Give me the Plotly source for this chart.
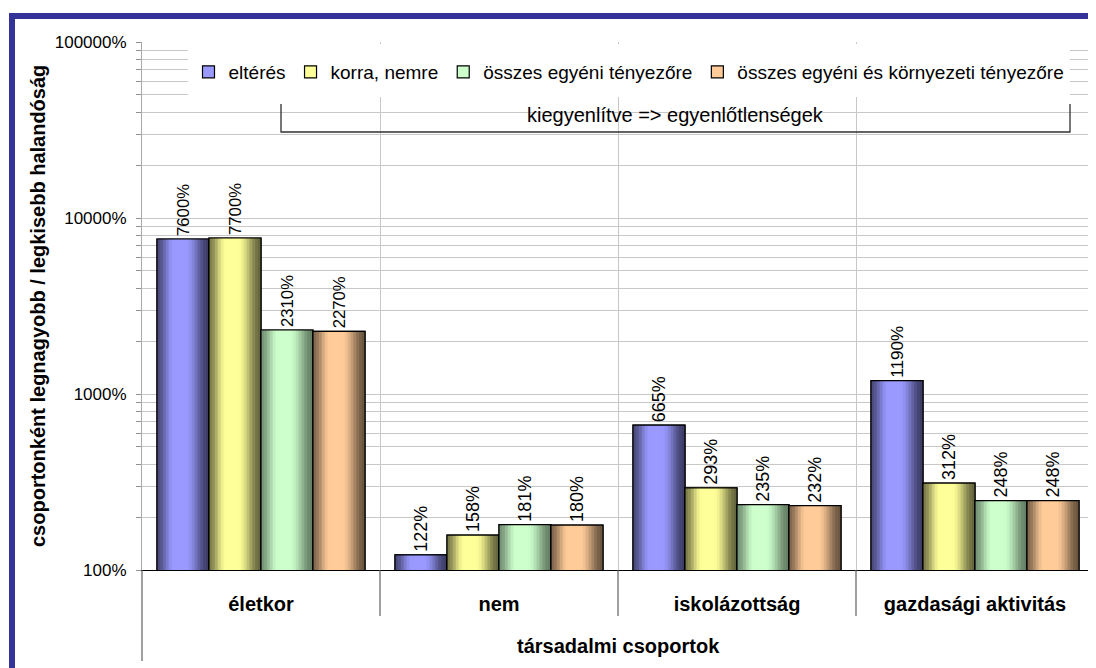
import math
import plotly.graph_objects as go

# ---------------- data ----------------
categories = ["életkor", "nem", "iskolázottság", "gazdasági aktivitás"]
series_names = ["eltérés", "korra, nemre", "összes egyéni tényezőre",
                "összes egyéni és környezeti tényezőre"]
elteres = [7600, 122, 665, 1190]
korra_nemre = [7700, 158, 293, 312]
osszes_egyeni = [2310, 181, 235, 248]
osszes_egyeni_kornyezeti = [2270, 180, 232, 248]
y_tick_vals = [100, 1000, 10000, 100000]
y_tick_text = ["100%", "1000%", "10000%", "100000%"]
x_title = "társadalmi csoportok"
y_title = "csoportonként legnagyobb / legkisebb halandóság"
bracket_text = "kiegyenlítve => egyenlőtlenségek"

series_values = [elteres, korra_nemre, osszes_egyeni, osszes_egyeni_kornyezeti]

# ---------------- style ----------------
OFF = 8                      # page body margin
W, H = 1096 - OFF, 668 - OFF
L, R, T, B = 142 - OFF, 2, 42 - OFF, 98
PW, PH = W - L - R, H - T - B
FONT = "Liberation Sans, Arial, sans-serif"
LABEL_FONT = "Liberation Sans Narrow, Arial Narrow, Liberation Sans, Arial, sans-serif"
light_colors = [(0x99, 0x99, 0xFF), (0xFF, 0xFF, 0x99), (0xCC, 0xFF, 0xCC), (0xFF, 0xCC, 0x99)]
dark_factor = [0.40, 0.40, 0.50, 0.42]
GRID = "#c8c8c8"


def px(xs):
    # screen x -> paper x
    return (xs - OFF - L) / PW


def py(ys):
    # screen y -> paper y
    return (H - B - (ys - OFF)) / PH


def profile(u):
    if u < 0.33:
        t = u / 0.33
        return 0.15 + 0.85 * 0.5 * (1 - math.cos(math.pi * t))
    if u <= 0.55:
        return 1.0
    t = (u - 0.55) / 0.45
    return 0.5 * (1 + math.cos(math.pi * t))


def mix(light, k, f):
    dark = [c * k for c in light]
    rgb = [int(round(d + (l - d) * f)) for d, l in zip(dark, light)]
    return "rgb(%d,%d,%d)" % tuple(rgb)


fig = go.Figure()

n_series = len(series_values)
bar_w = 52.0 / 238.0
group_start = -bar_w * n_series / 2
N_STRIPS = 18

for s, (name, vals) in enumerate(zip(series_names, series_values)):
    light = light_colors[s]
    base_off = group_start + s * bar_w
    fig.add_trace(go.Bar(
        x=categories, y=vals, name=name, width=bar_w, offset=base_off,
        marker=dict(color="rgb(%d,%d,%d)" % light, line=dict(color="black", width=1.2)),
        hoverinfo="skip", legendgroup=name,
    ))
    sw = bar_w / N_STRIPS
    for j in range(N_STRIPS):
        u = (j + 0.5) / N_STRIPS
        extra = sw * 0.35 if j < N_STRIPS - 1 else 0
        fig.add_trace(go.Bar(
            x=categories, y=vals, width=sw + extra, offset=base_off + j * sw,
            marker=dict(color=mix(light, dark_factor[s], profile(u)), line=dict(width=0)),
            showlegend=False, hoverinfo="skip", legendgroup=name,
        ))
    fig.add_trace(go.Bar(
        x=categories, y=vals, width=bar_w, offset=base_off,
        marker=dict(color="rgba(0,0,0,0)", line=dict(color="black", width=1.2)),
        text=["%d%%" % v for v in vals], textposition="outside", textangle=-90,
        textfont=dict(family=LABEL_FONT, size=18, color="black"),
        cliponaxis=False, showlegend=False, legendgroup=name,
        hovertemplate=name + "<br>%{x}: %{y}%<extra></extra>",
    ))

minor_vals = [m * 10 ** e for e in (2, 3, 4) for m in range(2, 10)]

shapes = [
    # white legend backing box (hides grid behind the legend)
    dict(type="rect", xref="paper", yref="paper", x0=px(188), x1=px(1070), y0=py(97), y1=py(44),
         fillcolor="white", line=dict(width=0), layer="above"),
    dict(type="rect", xref="paper", yref="paper", x0=px(9), x1=px(1110), y0=py(19), y1=py(13),
         fillcolor="#333399", line=dict(width=0), layer="above"),
    dict(type="rect", xref="paper", yref="paper", x0=px(9), x1=px(15), y0=py(690), y1=py(13),
         fillcolor="#333399", line=dict(width=0), layer="above"),
    dict(type="line", xref="paper", yref="paper", x0=0, x1=0, y0=0, y1=py(661),
         line=dict(color="#606060", width=1.2)),
    dict(type="line", xref="paper", yref="paper", x0=1, x1=1, y0=0, y1=py(661),
         line=dict(color="#606060", width=1.2)),
    dict(type="path", xref="paper", yref="paper",
         path="M %f,%f L %f,%f L %f,%f L %f,%f" % (px(281), py(104), px(281), py(132),
                                                  px(1070), py(132), px(1070), py(104)),
         line=dict(color="#303030", width=1.3)),
]
for i in range(1, len(categories)):
    shapes.append(dict(type="line", xref="x", yref="paper", x0=i - 0.5, x1=i - 0.5,
                       y0=0, y1=py(616), line=dict(color="#606060", width=1.2)))

annotations = [
    dict(text=y_title, xref="paper", yref="paper", x=px(38), y=py(306), textangle=-90,
         showarrow=False, xanchor="center", yanchor="middle",
         font=dict(family=FONT, size=20, color="black", weight="bold")),
    dict(text=x_title, xref="paper", yref="paper", x=px(618), y=py(646),
         showarrow=False, xanchor="center", yanchor="middle",
         font=dict(family=FONT, size=20, color="black", weight="bold")),
    dict(text=bracket_text, xref="paper", yref="paper", x=px(675), y=py(115),
         showarrow=False, xanchor="center", yanchor="middle",
         font=dict(family=FONT, size=20, color="black")),
]

fig.update_layout(
    width=W, height=H,
    margin=dict(l=L, r=R, t=T, b=B),
    paper_bgcolor="white", plot_bgcolor="white",
    barmode="overlay",
    font=dict(family=FONT, color="black"),
    showlegend=True,
    legend=dict(orientation="h", x=px(629), xanchor="center", y=py(53), yanchor="top",
                bgcolor="white", borderwidth=0, font=dict(family=FONT, size=19, color="black"),
                traceorder="normal"),
    shapes=shapes,
    annotations=annotations,
    xaxis=dict(type="category", categoryorder="array", categoryarray=categories,
               range=[-0.5, len(categories) - 0.5],
               showgrid=True, gridcolor=GRID, gridwidth=1, tickson="boundaries",
               ticks="", showline=True, linecolor="black", linewidth=1.2,
               ticklabelstandoff=16,
               tickfont=dict(family=FONT, size=20, color="black", weight="bold"),
               zeroline=False, fixedrange=True),
    yaxis=dict(type="log", range=[2, 5], tickmode="array", tickvals=y_tick_vals,
               ticktext=y_tick_text, ticks="outside", ticklen=5, tickcolor="#909090",
               showgrid=True, gridcolor=GRID, gridwidth=1,
               showline=True, linecolor="#a8a8a8", linewidth=1, mirror=True,
               ticklabelstandoff=6,
               tickfont=dict(family=FONT, size=17, color="black"),
               minor=dict(tickmode="array", tickvals=minor_vals, showgrid=True,
                          gridcolor=GRID, gridwidth=1, ticks="outside", ticklen=5,
                          tickcolor="#909090"),
               zeroline=False, fixedrange=True),
)

fig.write_html("out.html")
